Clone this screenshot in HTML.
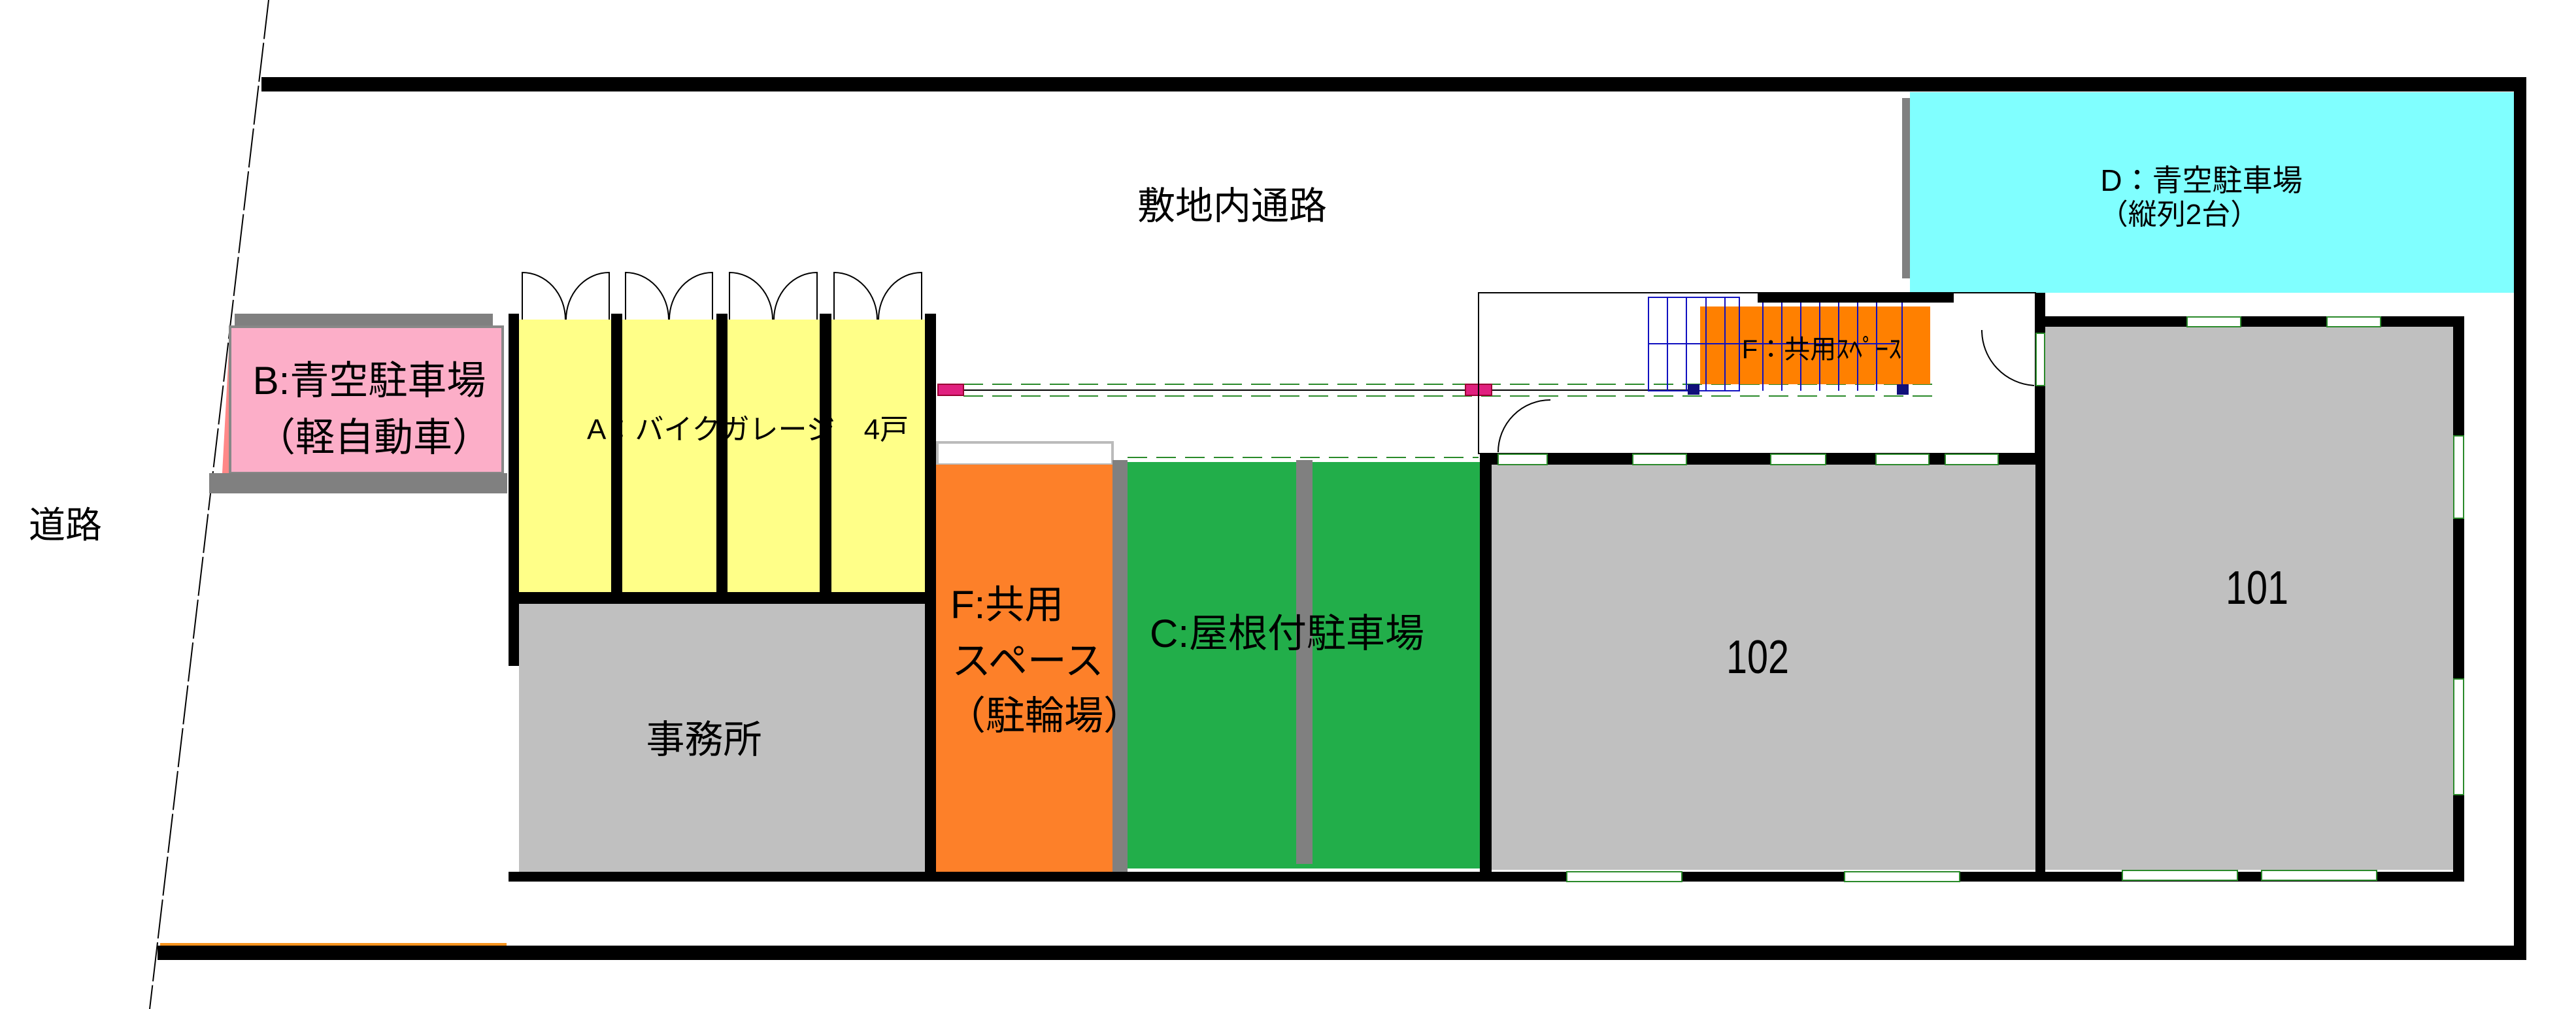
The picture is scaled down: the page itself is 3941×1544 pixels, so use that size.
<!DOCTYPE html>
<html><head><meta charset="utf-8">
<style>
html,body{margin:0;padding:0;background:#fff;width:3941px;height:1544px;overflow:hidden}
svg{display:block}
text{font-family:"Liberation Sans","Noto Sans CJK JP",sans-serif;fill:#000}
</style></head><body>
<svg width="3941" height="1544" viewBox="0 0 3941 1544" xmlns="http://www.w3.org/2000/svg">
<!-- road diagonal -->
<line x1="411" y1="0" x2="229" y2="1544" stroke="#000" stroke-width="2" stroke-dasharray="60,6"/>
<!-- site boundary -->
<rect x="400" y="118" width="3465" height="22" fill="#000"/>
<rect x="241" y="1447" width="3624" height="22" fill="#000"/>
<rect x="3846" y="118" width="19" height="1351" fill="#000"/>
<rect x="245" y="1443" width="530" height="4" fill="#f7931e"/>

<!-- B pink -->
<rect x="359" y="480" width="395" height="20" fill="#808080"/>
<polygon points="352,500 340,724 352,724" fill="#f88"/>
<rect x="352" y="500" width="417" height="224" fill="#fcaec8" stroke="#888" stroke-width="4"/>
<rect x="320" y="724" width="456" height="31" fill="#808080"/>
<text x="565" y="603" font-size="60" text-anchor="middle">B:青空駐車場</text>
<text x="572" y="690" font-size="60" text-anchor="middle">（軽自動車）</text>

<!-- A yellow -->
<rect x="794" y="489" width="621" height="417" fill="#ffff88"/>
<rect x="778" y="480" width="16" height="539" fill="#000"/>
<rect x="935" y="480" width="17" height="436" fill="#000"/>
<rect x="1096" y="480" width="17" height="446" fill="#000"/>
<rect x="1254" y="480" width="18" height="436" fill="#000"/>
<rect x="1415" y="480" width="17" height="869" fill="#000"/>
<rect x="778" y="906" width="654" height="18" fill="#000"/>
<text x="898" y="672" font-size="44">A：バイクガレージ　4戸</text>
<g fill="none" stroke="#000" stroke-width="2">
<path d="M799,489 V417 A66,72 0 0 1 865,489"/><path d="M932,489 V417 A66,72 0 0 0 866,489"/>
<path d="M957,489 V417 A66,72 0 0 1 1023,489"/><path d="M1090,489 V417 A66,72 0 0 0 1024,489"/>
<path d="M1116,489 V417 A66,72 0 0 1 1182,489"/><path d="M1250,489 V417 A66,72 0 0 0 1184,489"/>
<path d="M1276,489 V417 A66,72 0 0 1 1342,489"/><path d="M1410,489 V417 A66,72 0 0 0 1344,489"/>
</g>

<!-- office -->
<rect x="794" y="924" width="621" height="410" fill="#c0c0c0"/>
<text x="1077" y="1152" font-size="59" text-anchor="middle">事務所</text>

<!-- F orange -->
<rect x="1434" y="677" width="268" height="34" fill="#fff" stroke="#bbb" stroke-width="4"/>
<rect x="1432" y="711" width="270" height="626" fill="#fd8029"/>
<rect x="1702" y="704" width="23" height="635" fill="#808080"/>
<text x="1454" y="946" font-size="60">F:共用</text>
<text x="1456" y="1032" font-size="60">スペース</text>
<text x="1448" y="1116" font-size="60">（駐輪場）</text>

<!-- C green -->
<rect x="1725" y="707" width="539" height="622" fill="#22ae4a"/>
<rect x="1983" y="704" width="25" height="618" fill="#808080"/>
<text x="1759" y="990" font-size="60">C:屋根付駐車場</text>

<!-- bottom wall -->
<rect x="778" y="1334" width="2992" height="15" fill="#000"/>

<!-- dashed passage lines -->
<g stroke="#2a8a2a" stroke-width="2" stroke-dasharray="30,14">
<line x1="1474" y1="588" x2="2960" y2="588"/>
<line x1="1474" y1="606" x2="2960" y2="606"/>
<line x1="1725" y1="700" x2="2262" y2="700"/>
</g>
<line x1="1474" y1="597" x2="2600" y2="597" stroke="#000" stroke-width="2"/>
<rect x="1435" y="588" width="39" height="17" fill="#e0207f" stroke="#903" stroke-width="2"/>
<rect x="2242" y="588" width="40" height="17" fill="#e0207f" stroke="#903" stroke-width="2"/>

<text x="1885" y="335" font-size="58" text-anchor="middle">敷地内通路</text>
<text x="100" y="823" font-size="56" text-anchor="middle">道路</text>

<!-- D cyan -->
<rect x="2910" y="150" width="12" height="276" fill="#808080"/>
<rect x="2922" y="141" width="924" height="307" fill="#80ffff"/>
<text x="3368" y="292" font-size="46" text-anchor="middle">D：青空駐車場</text>
<text x="3334" y="343" font-size="44" text-anchor="middle">（縦列2台）</text>

<!-- stair area -->
<rect x="2262" y="448" width="852" height="246" fill="none" stroke="#000" stroke-width="2"/>
<rect x="2601" y="469" width="352" height="119" fill="#ff8000"/>
<g stroke="#1010c0" stroke-width="2" fill="none">
<rect x="2522" y="455" width="139" height="143"/>
<line x1="2522" y1="526" x2="2900" y2="526"/>
<line x1="2551" y1="455" x2="2551" y2="598"/><line x1="2580" y1="455" x2="2580" y2="598"/>
<line x1="2610" y1="455" x2="2610" y2="598"/><line x1="2639" y1="455" x2="2639" y2="598"/>
<line x1="2697" y1="455" x2="2697" y2="598"/><line x1="2726" y1="455" x2="2726" y2="598"/>
<line x1="2755" y1="455" x2="2755" y2="598"/><line x1="2784" y1="455" x2="2784" y2="598"/>
<line x1="2813" y1="455" x2="2813" y2="598"/><line x1="2842" y1="455" x2="2842" y2="598"/>
<line x1="2871" y1="455" x2="2871" y2="598"/><line x1="2910" y1="455" x2="2910" y2="598"/>
</g>
<rect x="2689" y="447" width="300" height="16" fill="#000"/>
<rect x="2582" y="588" width="18" height="16" fill="#10107a"/>
<rect x="2902" y="588" width="18" height="16" fill="#10107a"/>
<text x="2787" y="548" font-size="40" text-anchor="middle">F：共用ｽﾍﾟｰｽ</text>
<path d="M2372,612 A80,80 0 0 0 2292,692" fill="none" stroke="#000" stroke-width="2"/>
<path d="M3032,505 A85,85 0 0 0 3112,590" fill="none" stroke="#000" stroke-width="2"/>

<!-- room 102 -->
<rect x="2282" y="711" width="832" height="620" fill="#c0c0c0"/>
<rect x="2264" y="694" width="18" height="655" fill="#000"/>
<rect x="2264" y="694" width="865" height="17" fill="#000"/>
<text x="2689" y="1030" font-size="72" text-anchor="middle" transform="translate(2689 0) scale(0.8 1) translate(-2689 0)">102</text>

<!-- room 101 -->
<rect x="3129" y="500" width="624" height="831" fill="#c0c0c0"/>
<rect x="3114" y="448" width="15" height="901" fill="#000"/>
<rect x="3114" y="484" width="656" height="16" fill="#000"/>
<rect x="3753" y="484" width="17" height="865" fill="#000"/>
<text x="3453" y="924" font-size="72" text-anchor="middle" transform="translate(3453 0) scale(0.8 1) translate(-3453 0)">101</text>

<!-- windows -->
<g fill="#fff" stroke="#2a8a2a" stroke-width="2">
<rect x="2292" y="695" width="75" height="16"/>
<rect x="2498" y="695" width="82" height="16"/>
<rect x="2709" y="695" width="84" height="16"/>
<rect x="2870" y="695" width="81" height="16"/>
<rect x="2976" y="695" width="81" height="16"/>
<rect x="2397" y="1334" width="176" height="15"/>
<rect x="2822" y="1334" width="176" height="15"/>
<rect x="3346" y="485" width="82" height="15"/>
<rect x="3560" y="485" width="82" height="15"/>
<rect x="3247" y="1332" width="176" height="15"/>
<rect x="3460" y="1332" width="176" height="15"/>
<rect x="3754" y="667" width="15" height="126"/>
<rect x="3754" y="1039" width="15" height="177"/>
<rect x="3115" y="510" width="13" height="80"/>
</g>
</svg>
</body></html>
